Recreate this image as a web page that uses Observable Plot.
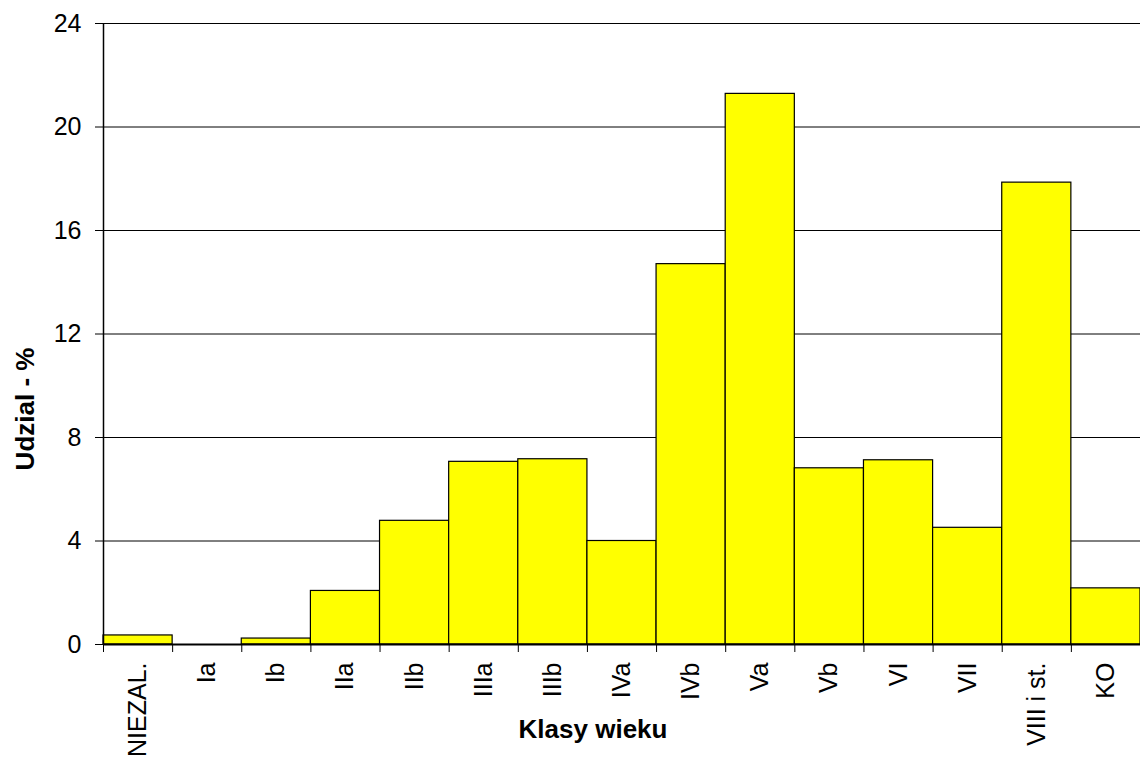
<!DOCTYPE html>
<html>
<head>
<meta charset="utf-8">
<script src="https://cdn.jsdelivr.net/npm/d3@7"></script>
<script src="https://cdn.jsdelivr.net/npm/@observablehq/plot@0.6"></script>
<style>
  html, body { margin: 0; padding: 0; background: #fff; }
  #chart svg { display: block; }
</style>
</head>
<body>
<div id="chart"></div>
<script>
const categories = ["NIEZAL.", "Ia", "Ib", "IIa", "IIb", "IIIa", "IIIb", "IVa", "IVb", "Va", "Vb", "VI", "VII", "VIII i st.", "KO"];
const values = [0.35, 0, 0.23, 2.07, 4.78, 7.06, 7.16, 4.0, 14.7, 21.28, 6.81, 7.12, 4.51, 17.85, 2.17];
const yTicks = [0, 4, 8, 12, 16, 20, 24];
const gridLines = [4, 8, 12, 16, 20, 24];
const yTitle = "Udzial - %";
const xTitle = "Klasy wieku";

const data = categories.map((c, i) => ({cat: c, i, value: values[i]}));
const boundaries = d3.range(categories.length + 1);

const font = "'Liberation Sans', Arial, sans-serif";

const chart = Plot.plot({
  width: 1140,
  height: 764,
  marginLeft: 103,
  marginRight: 0,
  marginTop: 23,
  marginBottom: 120,
  style: {fontFamily: font, fontSize: "25px", color: "#000", background: "#fff"},
  x: {type: "linear", domain: [0, categories.length]},
  y: {domain: [0, 24]},
  marks: [
    Plot.ruleY(gridLines, {stroke: "#000", strokeWidth: 1}),
    Plot.rectY(data, {x1: d => d.i, x2: d => d.i + 1, y1: 0, y2: "value", fill: "#ffff00", stroke: "#000", strokeWidth: 1.2}),
    Plot.ruleY([0], {stroke: "#000", strokeWidth: 2}),
    Plot.ruleX([0], {stroke: "#000", strokeWidth: 1.5}),
    Plot.axisY({ticks: yTicks, tickSize: 8, tickPadding: 14, label: null, fontSize: 25, stroke: "#000"}),
    Plot.axisX({ticks: boundaries, tickSize: 8, tickFormat: () => "", label: null, stroke: "#000"}),
    Plot.text(data, {x: d => d.i + 0.5, y: 0, text: "cat", rotate: -90, textAnchor: "end", dy: 18, fontSize: 25, fill: "#000"}),
    Plot.text([yTitle], {frameAnchor: "left", textAnchor: "middle", rotate: -90, dx: -78, dy: 75, fontSize: 26, fontWeight: "bold", fill: "#000"}),
    Plot.text([xTitle], {frameAnchor: "bottom", dx: -29, dy: 93, fontSize: 26, fontWeight: "bold", fill: "#000"})
  ]
});
document.getElementById("chart").appendChild(chart);
</script>
</body>
</html>
